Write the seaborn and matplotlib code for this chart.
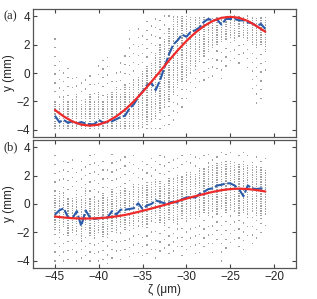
import numpy as np
import pandas as pd
import seaborn as sns
import matplotlib.pyplot as plt

# column positions (zeta, um)
zeta = np.arange(-45.0, -20.99, 0.5)

# panel (a): column means (blue)
mean_a = [-3.0, -3.45, -3.3, -3.5, -3.4, -3.55, -3.45, -3.55, -3.6, -3.6,
          -3.3, -3.5, -3.45, -3.4, -3.25, -3.1, -3.0, -2.5, -2.2, -1.7,
          -1.3, -0.85, -0.7, -1.2, -0.5, 0.4, 1.3, 2.0, 2.3, 2.7,
          2.55, 2.9, 3.0, 3.2, 3.6, 3.8, 3.7, 3.75, 3.4, 3.8,
          3.8, 3.8, 3.7, 3.7, 3.55, 3.5, 3.3, 3.45, 3.1]
# panel (b): column means (blue)
mean_b = [-0.75, -0.45, -0.3, -0.95, -1.0, -0.5, -1.55, -0.45, -0.95, -1.05,
          -1.0, -0.95, -0.95, -0.5, -0.75, -0.4, -0.4, -0.35, -0.3, 0.05,
          -0.35, -0.1, 0.0, 0.25, 0.15, 0.05, 0.1, 0.15, 0.1, 0.35,
          0.45, 0.5, 0.45, 0.7, 0.85, 1.05, 1.1, 1.3, 1.35, 1.45,
          1.45, 1.3, 1.05, 0.55, 1.3, 1.1, 1.05, 1.1, 1.05]

# fitted curves (red)
zeta_fit = np.arange(-45.0, -20.99, 1.0)
fit_a = [-2.6, -3.05, -3.41, -3.63, -3.7, -3.63, -3.41, -3.05, -2.58, -2.0,
         -1.34, -0.62, 0.12, 0.87, 1.59, 2.25, 2.83, 3.3, 3.66, 3.88,
         3.95, 3.88, 3.66, 3.3, 2.9]
fit_b = [-0.88, -0.95, -1.0, -1.02, -1.02, -1.0, -0.95, -0.87, -0.77, -0.63,
         -0.48, -0.32, -0.15, 0.02, 0.2, 0.38, 0.55, 0.7, 0.85, 0.97,
         1.05, 1.08, 1.05, 0.98, 0.88]

# raw points: per column dense band (lo, hi) and sparse extent (lo, hi)
dlo_a = [-3.9]*20 + [-3.8, -3.6, -3.4, -3.2, -2.8, -2.4, -2.0, -1.5, -1.0, -0.6,
                     -0.3, 0.0, 0.5, 0.8, 1.2, 1.5, 1.8, 2.0, 2.2, 2.4,
                     2.5, 2.3, 2.6, 2.5, 2.3, 2.0, 1.8, 2.0, 1.5]
dhi_a = [-1.9, -2.2, -1.6, -2.0, -1.8, -1.5, -2.2, -1.8, -1.4, -2.0,
         -1.3, -1.9, -1.5, -1.2, -1.0, -1.5, -0.8, -1.0, -0.4, -0.2,
         0.2, 0.5, 0.8, 1.4, 2.0, 2.5, 3.2] + [4.0]*22
slo_a = [-3.9]*25 + [-3.7, -3.6, -3.3, -2.8, -2.4, -1.8, -1.3, -1.0, -0.6, -0.5,
                     -0.3, -0.2, 0.3, -0.4, 0.5, 0.9, 1.0, 0.7, 1.4, 0.4,
                     -1.1, -2.1, -1.8, 0.2]
shi_a = [2.4, 0.8, 0.0, 0.3, -0.4, -0.3, -0.7, -0.5, -0.2, -0.8,
         0.5, 0.9, 1.1, -0.6, 0.0, 0.7, 1.2, 3.0, 2.0, 3.1,
         2.6, 3.6, 3.3, 3.8, 3.7] + [4.0]*24

dlo_b = [-1.8, -2.0, -1.6, -2.2, -2.0, -1.9, -2.6, -1.8, -2.2, -2.4,
         -2.0, -2.3, -2.1, -1.7, -2.0, -1.6, -1.8, -1.5, -1.7, -1.2,
         -1.6, -1.4, -1.2, -1.0, -1.3, -1.5, -1.1, -1.3, -1.4, -1.0,
         -1.2, -1.0, -0.8, -0.9, -0.6, -0.8, -0.5, -0.7, -0.3, -0.6,
         -0.4, -0.5, -0.8, -0.6, -0.7, -0.5, -0.8, -1.0, -0.7]
dhi_b = [0.6, 1.0, 0.9, 0.4, 0.5, 0.7, 0.3, 1.1, 0.4, 0.6,
         0.3, 0.8, 0.5, 1.1, 0.8, 1.0, 1.2, 1.0, 1.5, 1.4,
         1.3, 1.5, 1.6, 1.8, 1.7, 1.5, 1.9, 1.8, 2.0, 2.0,
         2.2, 2.3, 2.1, 2.5, 2.6, 2.6, 2.8, 2.9, 3.0, 3.0,
         3.1, 3.0, 2.8, 3.0, 2.8, 2.9, 2.6, 2.7, 2.5]
slo_b = [-4.0, -3.6, -4.0, -3.9, -3.2, -4.0, -3.8, -3.6, -4.0, -3.5,
         -4.0, -3.9, -4.2, -3.8, -3.3, -3.9, -3.2, -3.7, -3.5, -3.4,
         -3.6, -3.5, -3.2, -3.8, -3.3, -3.1, -3.5, -3.3, -3.0, -3.6,
         -3.2, -3.0, -3.5, -3.4, -3.0, -2.8, -3.4, -2.5, -4.0, -3.1,
         -2.7, -2.5, -3.0, -3.2, -2.2, -2.8, -2.4, -2.0, -1.5]
shi_b = [3.4, 2.3, 3.0, 2.9, 3.1, 2.2, 3.0, 2.6, 3.4, 3.5,
         2.7, 3.0, 2.4, 3.5, 3.0, 3.1, 3.3, 2.9, 3.4, 2.5,
         3.0, 2.8, 3.2, 3.0, 3.4, 3.3, 2.9, 3.1, 3.2, 3.4,
         3.0, 3.5, 3.3, 3.2, 3.4, 3.5, 3.1, 3.3, 3.6, 3.5,
         3.6, 3.2, 3.4, 3.6, 3.4, 3.1, 3.3, 3.0, 3.2]


def cloud(dlo, dhi, slo, shi):
    xs, ys = [], []
    for z, a, b, c, d in zip(zeta, dlo, dhi, slo, shi):
        dense = np.arange(a, b + 1e-6, 0.17)
        # sparse dots, stepping from each outer extreme towards the band
        upper = np.arange(d, b + 0.2, -0.62) if d > b + 0.2 else []
        lower = np.arange(c, a - 0.2, 0.62) if c < a - 0.2 else []
        v = np.concatenate([dense, upper, lower])
        xs += [z] * len(v)
        ys += list(v)
    return pd.DataFrame({'zeta': xs, 'y': ys})


sns.set_style('ticks')
plt.rcParams['font.family'] = ['Liberation Sans', 'DejaVu Sans']

fig = plt.figure(figsize=(3.17, 2.99), dpi=100)
ax_a = fig.add_axes([33/317, 1 - 137/299, 263/317, 128/299])
ax_b = fig.add_axes([33/317, 1 - 268/299, 263/317, 128/299])

panels = [(ax_a, mean_a, fit_a, (dlo_a, dhi_a, slo_a, shi_a), '(a)', 16),
          (ax_b, mean_b, fit_b, (dlo_b, dhi_b, slo_b, shi_b), '(b)', 147)]

for ax, mean, fit, rng, lab, ly in panels:
    pts = cloud(*rng)
    sns.scatterplot(data=pts, x='zeta', y='y', ax=ax, marker='s', s=0.9,
                    color='#a0a0a0', edgecolor='none', linewidth=0)
    sns.lineplot(x=zeta, y=mean, ax=ax, color='#2a5caa', lw=1.5,
                 linestyle=(0, (5, 1.2)))
    sns.lineplot(x=zeta_fit, y=fit, ax=ax, color='#ee2a2a', lw=1.6)
    ax.set_xlim(-47.5, -17.5)
    ax.set_ylim(-4.5, 4.5)
    ax.set_xticks([-45, -40, -35, -30, -25, -20])
    ax.set_yticks([-4, -2, 0, 2, 4])
    ax.tick_params(direction='in', top=True, right=True, length=3, width=0.8,
                   labelsize=8.5, pad=2, color='#444444')
    for sp in ax.spines.values():
        sp.set_color('#555555')
        sp.set_linewidth(0.9)
    ax.set_ylabel('y (mm)', fontsize=8.5, labelpad=1)
    ax.set_xlabel('')
    fig.text(3/317, 1 - ly/299, lab, fontsize=9,
             family='Liberation Serif', ha='left', va='center')

ax_a.set_xticklabels([])
ax_b.set_xlabel('ζ (μm)', fontsize=8.5, labelpad=1)

fig.savefig('out.png', dpi=100)
